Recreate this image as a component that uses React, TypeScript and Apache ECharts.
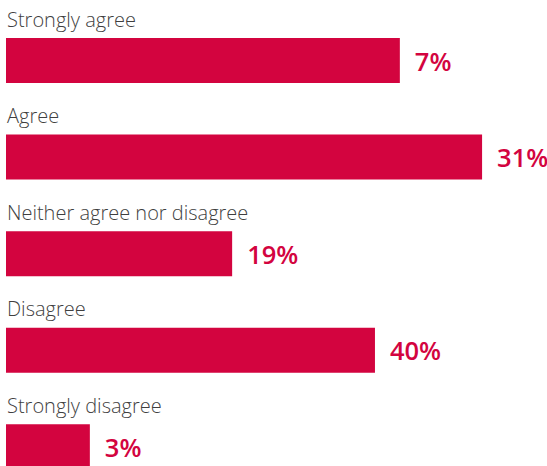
import React, { useEffect, useRef } from "react";
import * as echarts from "echarts";

const categories = [
  "Strongly agree",
  "Agree",
  "Neither agree nor disagree",
  "Disagree",
  "Strongly disagree",
];
// Percentages shown as labels
const percentValues = [7, 31, 19, 40, 3];
// Bar lengths as drawn in the reference (0-100 scale of the plot width)
const barLengths = [72.8, 88.0, 41.8, 68.2, 15.5];

const RED = "#D3043F";

export default function App() {
  const ref = useRef<HTMLDivElement>(null);
  useEffect(() => {
    if (!ref.current) return;
    const chart = echarts.init(ref.current, null, { renderer: "svg" });
    chart.setOption({
      animation: false,
      grid: { left: 6, right: 0, top: 12.25, bottom: 0, containLabel: false },
      xAxis: { type: "value", min: 0, max: 100, show: false },
      yAxis: { type: "category", data: categories, inverse: true, show: false },
      series: [
        {
          type: "bar",
          barWidth: 45,
          data: barLengths,
          itemStyle: { color: RED },
          label: {
            show: true,
            position: "right",
            distance: 15,
            color: RED,
            fontFamily: "'Open Sans', sans-serif",
            fontWeight: 600,
            fontSize: 25.5,
            formatter: (p: any) => percentValues[p.dataIndex] + "%",
          },
        },
        {
          type: "bar",
          barWidth: 45,
          barGap: "-100%",
          data: barLengths,
          itemStyle: { color: "rgba(0,0,0,0)" },
          silent: true,
          z: 3,
          label: {
            show: true,
            position: [1, -9],
            align: "left",
            verticalAlign: "bottom",
            color: "#3f3f3f",
            fontFamily: "'Open Sans', sans-serif",
            fontWeight: 300,
            fontSize: 20,
            lineHeight: 20,
            formatter: (p: any) => categories[p.dataIndex],
          },
        },
      ],
    });
    return () => chart.dispose();
  }, []);
  return (
    <div style={{ position: "absolute", left: 0, top: 0, width: 547, height: 466, overflow: "hidden", background: "#fff" }}>
      <div ref={ref} style={{ width: 547, height: 495 }} />
    </div>
  );
}
